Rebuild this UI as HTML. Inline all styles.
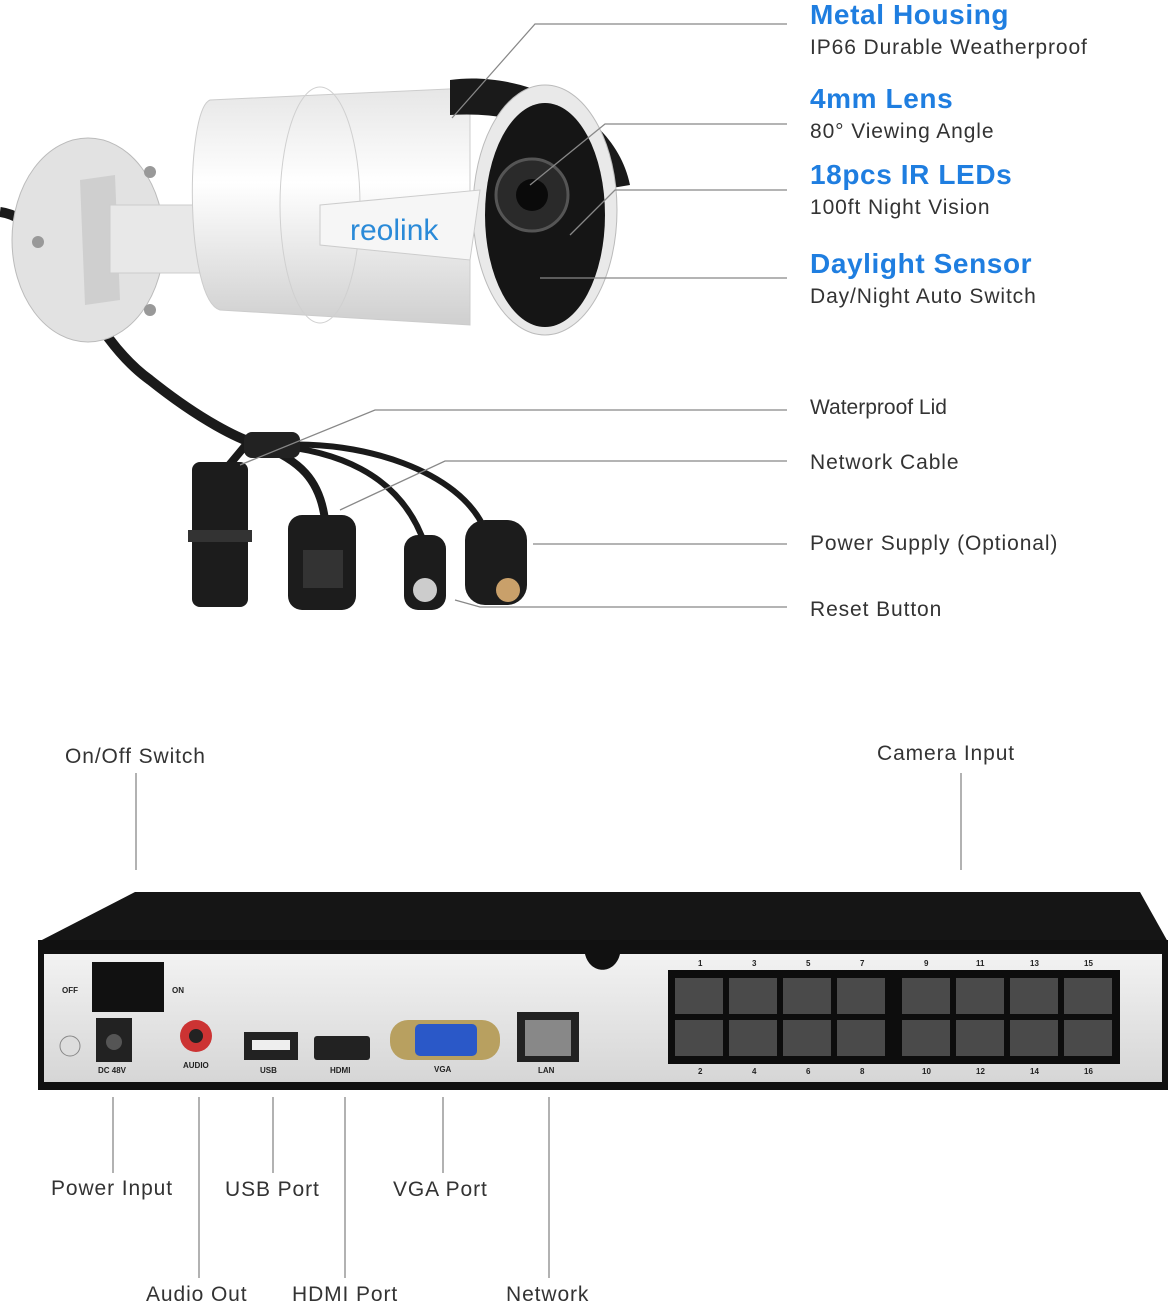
<!DOCTYPE html>
<html><head><meta charset="utf-8"><style>
html,body{margin:0;padding:0;background:#fff;}
svg{display:block;font-family:"Liberation Sans",sans-serif;}
.t{fill:#333;font-size:21px;letter-spacing:0.9px;}
.b{fill:#1f7ee0;font-size:28px;font-weight:bold;letter-spacing:0.6px;}
.s{fill:#222;font-size:8px;font-weight:bold;}
.l{stroke:#888;stroke-width:1.3;fill:none;}
</style></head><body>
<svg width="1174" height="1308" viewBox="0 0 1174 1308" xmlns="http://www.w3.org/2000/svg">
<defs>
<linearGradient id="body" x1="0" y1="0" x2="0" y2="1"><stop offset="0" stop-color="#e6e6e6"/><stop offset="0.4" stop-color="#fff"/><stop offset="1" stop-color="#cfcfcf"/></linearGradient>
<linearGradient id="panel" x1="0" y1="0" x2="0" y2="1"><stop offset="0" stop-color="#f2f2f2"/><stop offset="1" stop-color="#d6d6d6"/></linearGradient>
</defs>
<path d="M0,212 C60,220 80,330 150,380 C200,420 240,440 260,445" stroke="#1a1a1a" stroke-width="10" fill="none"/>
<path d="M260,445 C300,460 320,480 325,520" stroke="#1a1a1a" stroke-width="8" fill="none"/>
<path d="M270,445 C330,450 400,470 425,545" stroke="#1a1a1a" stroke-width="6" fill="none"/>
<path d="M280,445 C360,440 460,470 485,530" stroke="#1a1a1a" stroke-width="6" fill="none"/>
<path d="M250,440 L225,470" stroke="#1a1a1a" stroke-width="8"/>
<rect x="244" y="432" width="56" height="26" rx="8" fill="#222"/>
<rect x="192" y="462" width="56" height="145" rx="8" fill="#1c1c1c"/>
<rect x="188" y="530" width="64" height="12" fill="#333"/>
<rect x="288" y="515" width="68" height="95" rx="14" fill="#1c1c1c"/>
<rect x="303" y="550" width="40" height="38" fill="#333"/>
<rect x="404" y="535" width="42" height="75" rx="14" fill="#1c1c1c"/>
<circle cx="425" cy="590" r="12" fill="#ccc"/>
<rect x="465" y="520" width="62" height="85" rx="20" fill="#1c1c1c"/>
<circle cx="508" cy="590" r="12" fill="#c9a06a"/>
<ellipse cx="88" cy="240" rx="76" ry="102" fill="#e2e2e2" stroke="#bbb"/>
<path d="M80,180 L115,175 L120,300 L85,305 Z" fill="#cfcfcf"/>
<circle cx="38" cy="242" r="6" fill="#999"/><circle cx="150" cy="172" r="6" fill="#999"/><circle cx="150" cy="310" r="6" fill="#999"/>
<rect x="110" y="205" width="110" height="68" fill="#e8e8e8" stroke="#ccc"/>
<path d="M210,100 L470,88 L470,325 L220,310 C185,300 185,110 210,100 Z" fill="url(#body)" stroke="#ccc"/>
<ellipse cx="320" cy="205" rx="40" ry="118" fill="none" stroke="#d0d0d0"/>
<path d="M450,80 C520,70 615,110 630,185 L600,190 C580,140 530,110 450,115 Z" fill="#1a1a1a"/>
<ellipse cx="545" cy="210" rx="72" ry="125" fill="#e9e9e9" stroke="#bbb"/>
<ellipse cx="545" cy="215" rx="60" ry="112" fill="#151515"/>
<circle cx="532" cy="195" r="36" fill="#2a2a2a" stroke="#555" stroke-width="3"/>
<circle cx="532" cy="195" r="16" fill="#0a0a0a"/>
<path d="M320,205 L480,190 L470,260 L320,245 Z" fill="#f6f6f6" stroke="#ccc"/>
<text x="350" y="240" fill="#2a8ad8" font-size="30">reolink</text>
<path class="l" d="M452,118 L535,24 L787,24"/>
<path class="l" d="M530,185 L605,124 L787,124"/>
<path class="l" d="M570,235 L615,190 L787,190"/>
<path class="l" d="M540,278 L787,278"/>
<path class="l" d="M240,465 L375,410 L787,410"/>
<path class="l" d="M340,510 L445,461 L787,461"/>
<path class="l" d="M533,544 L787,544"/>
<path class="l" d="M455,600 L480,607 L787,607"/>
<text class="b" x="810" y="24">Metal Housing</text>
<text class="t" x="810" y="54">IP66 Durable Weatherproof</text>
<text class="b" x="810" y="108">4mm Lens</text>
<text class="t" x="810" y="138">80° Viewing Angle</text>
<text class="b" x="810" y="184">18pcs IR LEDs</text>
<text class="t" x="810" y="214">100ft Night Vision</text>
<text class="b" x="810" y="273">Daylight Sensor</text>
<text class="t" x="810" y="303">Day/Night Auto Switch</text>
<text class="t" x="810" y="414" font-size="20" style="letter-spacing:0">Waterproof Lid</text>
<text class="t" x="810" y="469">Network Cable</text>
<text class="t" x="810" y="550">Power Supply (Optional)</text>
<text class="t" x="810" y="616">Reset Button</text>
<polygon points="38,942 135,892 1140,892 1168,942" fill="#151515"/>
<rect x="38" y="940" width="1130" height="150" fill="#111"/>
<rect x="44" y="954" width="1118" height="128" fill="url(#panel)"/>
<path d="M585,954 L620,954 C615,975 590,975 585,954Z" fill="#111"/>
<rect x="92" y="962" width="72" height="50" fill="#111"/>
<text class="s" x="62" y="993" font-size="10">OFF</text><text class="s" x="172" y="993" font-size="10">ON</text>
<rect x="96" y="1018" width="36" height="44" fill="#222"/><circle cx="114" cy="1042" r="8" fill="#555"/>
<text class="s" x="98" y="1073">DC 48V</text>
<circle cx="70" cy="1046" r="10" fill="#ddd" stroke="#888"/>
<circle cx="196" cy="1036" r="16" fill="#c33"/><circle cx="196" cy="1036" r="7" fill="#222"/>
<text class="s" x="183" y="1068">AUDIO</text>
<rect x="244" y="1032" width="54" height="28" fill="#222"/><rect x="252" y="1040" width="38" height="10" fill="#eee"/>
<text class="s" x="260" y="1073">USB</text>
<rect x="314" y="1036" width="56" height="24" rx="3" fill="#222"/>
<text class="s" x="330" y="1073">HDMI</text>
<rect x="390" y="1020" width="110" height="40" rx="18" fill="#b8a060"/>
<rect x="415" y="1024" width="62" height="32" rx="5" fill="#2a58c8"/>
<text class="s" x="434" y="1072">VGA</text>
<rect x="517" y="1012" width="62" height="50" fill="#222"/><rect x="525" y="1020" width="46" height="36" fill="#888"/>
<text class="s" x="538" y="1073">LAN</text>
<rect x="668" y="970" width="452" height="94" fill="#0d0d0d"/>
<g fill="#4a4a4a">
<rect x="675" y="978" width="48" height="36"/><rect x="729" y="978" width="48" height="36"/><rect x="783" y="978" width="48" height="36"/><rect x="837" y="978" width="48" height="36"/>
<rect x="902" y="978" width="48" height="36"/><rect x="956" y="978" width="48" height="36"/><rect x="1010" y="978" width="48" height="36"/><rect x="1064" y="978" width="48" height="36"/>
<rect x="675" y="1020" width="48" height="36"/><rect x="729" y="1020" width="48" height="36"/><rect x="783" y="1020" width="48" height="36"/><rect x="837" y="1020" width="48" height="36"/>
<rect x="902" y="1020" width="48" height="36"/><rect x="956" y="1020" width="48" height="36"/><rect x="1010" y="1020" width="48" height="36"/><rect x="1064" y="1020" width="48" height="36"/>
</g>
<g class="s"><text x="698" y="966">1</text><text x="752" y="966">3</text><text x="806" y="966">5</text><text x="860" y="966">7</text><text x="924" y="966">9</text><text x="976" y="966">11</text><text x="1030" y="966">13</text><text x="1084" y="966">15</text>
<text x="698" y="1074">2</text><text x="752" y="1074">4</text><text x="806" y="1074">6</text><text x="860" y="1074">8</text><text x="922" y="1074">10</text><text x="976" y="1074">12</text><text x="1030" y="1074">14</text><text x="1084" y="1074">16</text></g>
<path class="l" d="M136,773 L136,870 M961,773 L961,870 M113,1097 L113,1173 M199,1097 L199,1278 M273,1097 L273,1173 M345,1097 L345,1278 M443,1097 L443,1173 M549,1097 L549,1278"/>
<text class="t" x="65" y="763">On/Off Switch</text>
<text class="t" x="877" y="760">Camera Input</text>
<text class="t" x="51" y="1195">Power Input</text>
<text class="t" x="225" y="1196">USB Port</text>
<text class="t" x="393" y="1196">VGA Port</text>
<text class="t" x="146" y="1301">Audio Out</text>
<text class="t" x="292" y="1301">HDMI Port</text>
<text class="t" x="506" y="1301">Network</text>
</svg>
</body></html>
